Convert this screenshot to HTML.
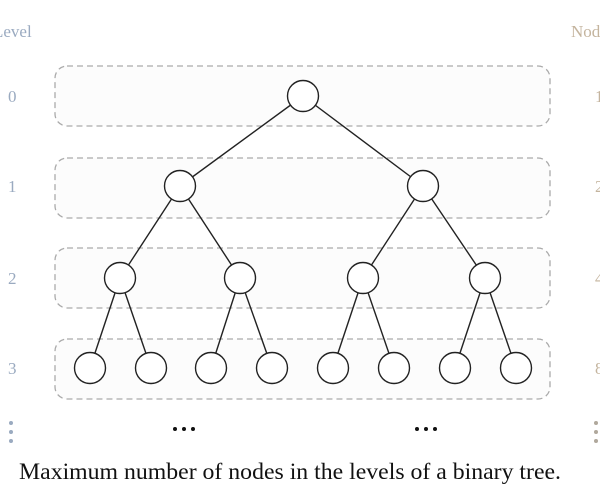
<!DOCTYPE html>
<html><head><style>body{margin:0;background:#fff}svg{display:block}</style></head><body>
<svg width="600" height="498" xmlns="http://www.w3.org/2000/svg" font-family="Liberation Serif, serif">
<g fill="#fcfcfc" stroke="#aaa" stroke-width="1.3" stroke-dasharray="6,4">
<rect x="55" y="66" width="495" height="60" rx="12"/>
<rect x="55" y="158" width="495" height="60" rx="12"/>
<rect x="55" y="248" width="495" height="60" rx="12"/>
<rect x="55" y="339" width="495" height="60" rx="12"/>
</g>
<g stroke="#222" stroke-width="1.4">
<line x1="303" y1="96" x2="180" y2="186"/><line x1="303" y1="96" x2="423" y2="186"/>
<line x1="180" y1="186" x2="120" y2="278"/><line x1="180" y1="186" x2="240" y2="278"/>
<line x1="423" y1="186" x2="363" y2="278"/><line x1="423" y1="186" x2="485" y2="278"/>
<line x1="120" y1="278" x2="90" y2="368"/><line x1="120" y1="278" x2="151" y2="368"/>
<line x1="240" y1="278" x2="211" y2="368"/><line x1="240" y1="278" x2="272" y2="368"/>
<line x1="363" y1="278" x2="333" y2="368"/><line x1="363" y1="278" x2="394" y2="368"/>
<line x1="485" y1="278" x2="455" y2="368"/><line x1="485" y1="278" x2="516" y2="368"/>
</g>
<g fill="#fff" stroke="#222" stroke-width="1.4">
<circle cx="303" cy="96" r="15.5"/>
<circle cx="180" cy="186" r="15.5"/><circle cx="423" cy="186" r="15.5"/>
<circle cx="120" cy="278" r="15.5"/><circle cx="240" cy="278" r="15.5"/><circle cx="363" cy="278" r="15.5"/><circle cx="485" cy="278" r="15.5"/>
<circle cx="90" cy="368" r="15.5"/><circle cx="151" cy="368" r="15.5"/><circle cx="211" cy="368" r="15.5"/><circle cx="272" cy="368" r="15.5"/>
<circle cx="333" cy="368" r="15.5"/><circle cx="394" cy="368" r="15.5"/><circle cx="455" cy="368" r="15.5"/><circle cx="516" cy="368" r="15.5"/>
</g>
<g fill="#9aaac0" font-size="17">
<text x="-7" y="37">Level</text>
<text x="8" y="102">0</text><text x="8" y="192">1</text><text x="8" y="284">2</text><text x="8" y="374">3</text>
</g>
<g fill="#9aaac0"><circle cx="11" cy="423" r="2"/><circle cx="11" cy="432" r="2"/><circle cx="11" cy="441" r="2"/></g>
<g fill="#c4b49e" font-size="17">
<text x="571" y="37">Nodes</text>
<text x="595" y="102">1</text><text x="595" y="192">2</text><text x="595" y="284">4</text><text x="595" y="374">8</text>
</g>
<g fill="#b0a89c"><circle cx="596" cy="423" r="2"/><circle cx="596" cy="432" r="2"/><circle cx="596" cy="441" r="2"/></g>
<g fill="#111"><circle cx="175" cy="429" r="2"/><circle cx="184" cy="429" r="2"/><circle cx="193" cy="429" r="2"/>
<circle cx="417" cy="429" r="2"/><circle cx="426" cy="429" r="2"/><circle cx="435" cy="429" r="2"/></g>
<text x="19" y="479" font-size="23" fill="#111" textLength="542" lengthAdjust="spacingAndGlyphs">Maximum number of nodes in the levels of a binary tree.</text>
</svg>
</body></html>
